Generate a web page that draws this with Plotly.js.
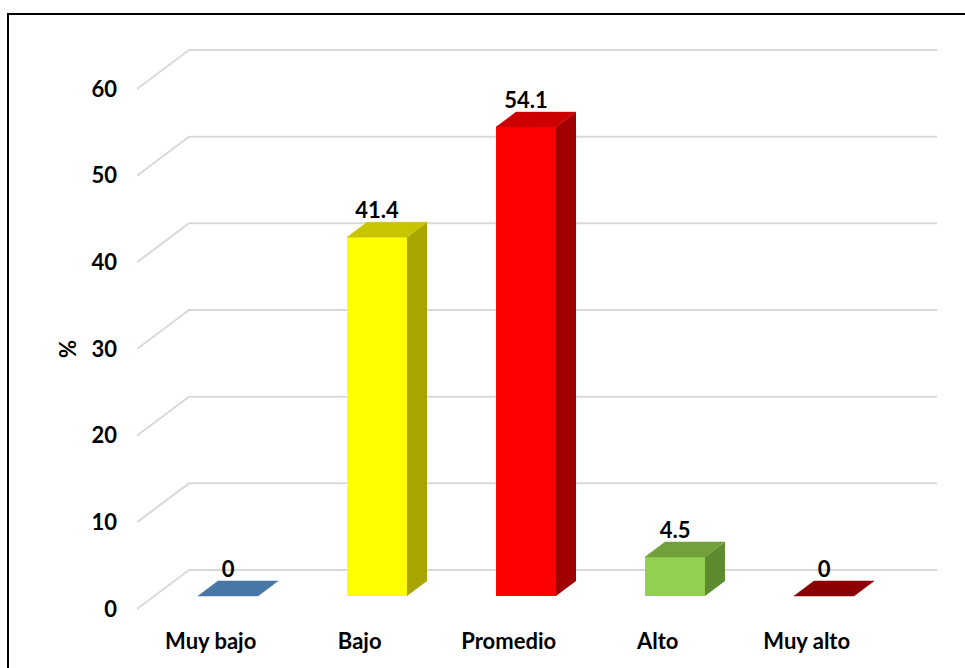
<!DOCTYPE html>
<html>
<head>
<meta charset="utf-8">
<script src="https://cdn.plot.ly/plotly-3.0.1.min.js"></script>
<style>html,body{margin:0;padding:0;background:#fff;}#chart{width:965px;height:668px;}</style>
</head>
<body>
<div id="chart"></div>
<script>
// ---- data ----
const categories = ["Muy bajo", "Bajo", "Promedio", "Alto", "Muy alto"];
const values = [0, 41.4, 54.1, 4.5, 0];
const valueLabels = ["0", "41.4", "54.1", "4.5", "0"];
const yTicks = [0, 10, 20, 30, 40, 50, 60];

// ---- styles ----
const frontColors = ["#5B8FC4", "#FFFF00", "#FF0000", "#92D050", "#8B0000"];
const topColors   = ["#4677A6", "#C8C400", "#CC0000", "#74A03C", "#8B0000"];
const sideColors  = ["#3A6690", "#A8A400", "#A00000", "#5E8A30", "#700000"];

const FONT = "Lato, 'Open Sans', sans-serif";
const FS = 22;
const PX_PER_X = 149;            // pixels per category
const PX_PER_Y = 8.667;          // pixels per % unit
const DEPTH_X = 52 / PX_PER_X;   // full floor depth, x units
const DEPTH_Y = 39 / PX_PER_Y;   // full floor depth, y units
const F1 = 1 / 3;                // bar front depth fraction
const F2 = 0.718;                // bar back depth fraction
const BAR_W = 60 / PX_PER_X;
const LABEL_DROP = 1 / PX_PER_Y; // nudge value labels toward bar top

const X_MIN = -0.4946, X_MAX = 4.8745;
const Y_MIN = -1.269, Y_MAX = 66.805;

const traces = [];
const xc = categories.map((c, i) => i + F1 * DEPTH_X);
const base = F1 * DEPTH_Y;
const dx = (F2 - F1) * DEPTH_X, dy = (F2 - F1) * DEPTH_Y;

// front faces
traces.push({
  type: "bar", x: xc, y: values, base: base, width: BAR_W,
  marker: {color: frontColors, line: {width: 0}},
  hoverinfo: "skip", showlegend: false
});
// side and top faces
values.forEach((v, i) => {
  const xl = xc[i] - BAR_W / 2, xr = xc[i] + BAR_W / 2;
  const yt = base + v;
  if (v > 0) {
    traces.push({
      type: "scatter", mode: "lines", fill: "toself",
      x: [xr, xr, xr + dx, xr + dx, xr],
      y: [base, yt, yt + dy, base + dy, base],
      fillcolor: sideColors[i], line: {width: 0, color: sideColors[i]},
      hoverinfo: "skip", showlegend: false
    });
  }
  traces.push({
    type: "scatter", mode: "lines", fill: "toself",
    x: [xl, xr, xr + dx, xl + dx, xl],
    y: [yt, yt, yt + dy, yt + dy, yt],
    fillcolor: topColors[i], line: {width: 0.5, color: topColors[i]},
    hoverinfo: "skip", showlegend: false
  });
});
// value labels
traces.push({
  type: "scatter", mode: "text",
  x: xc, y: values.map(v => base + v + dy - LABEL_DROP),
  text: valueLabels, textposition: "top center",
  textfont: {family: FONT, size: FS, color: "#000", weight: "bold"},
  cliponaxis: false, hoverinfo: "skip", showlegend: false
});

// 3D gridlines
const shapes = yTicks.map(t => ({
  type: "path", xref: "x", yref: "y", layer: "below",
  path: `M ${X_MIN} ${t} L ${X_MIN + DEPTH_X} ${t + DEPTH_Y} L ${X_MAX} ${t + DEPTH_Y}`,
  line: {color: "#D9D9D9", width: 2}
}));
// chart border
shapes.push({
  type: "rect", xref: "paper", yref: "paper", layer: "above",
  x0: (8 - 137) / 800, x1: (985 - 137) / 800,
  y0: (620 - 690) / 590, y1: (620 - 14) / 590,
  line: {color: "#000", width: 2}, fillcolor: "rgba(0,0,0,0)"
});

const layout = {
  width: 965, height: 668,
  margin: {l: 137, r: 28, t: 30, b: 48},
  paper_bgcolor: "#fff", plot_bgcolor: "#fff",
  showlegend: false,
  xaxis: {
    range: [X_MIN, X_MAX], tickvals: categories.map((c, i) => i), ticktext: categories,
    showgrid: false, zeroline: false, showline: false, ticks: "",
    ticklabelstandoff: 6,
    tickfont: {family: FONT, size: FS, color: "#000", weight: "bold"}
  },
  yaxis: {
    range: [Y_MIN, Y_MAX], tickvals: yTicks, ticktext: yTicks.map(String),
    showgrid: false, zeroline: false, showline: false, ticks: "",
    ticklabelstandoff: 19,
    tickfont: {family: FONT, size: FS, color: "#000", weight: "bold"}
  },
  shapes: shapes,
  annotations: [{
    text: "%", xref: "paper", yref: "y", x: (68 - 137) / 800, y: 30,
    showarrow: false, textangle: -90, xanchor: "center", yanchor: "middle",
    font: {family: FONT, size: FS, color: "#000", weight: "bold"}
  }]
};

Plotly.newPlot("chart", traces, layout, {displayModeBar: false, staticPlot: true});
</script>
</body>
</html>
